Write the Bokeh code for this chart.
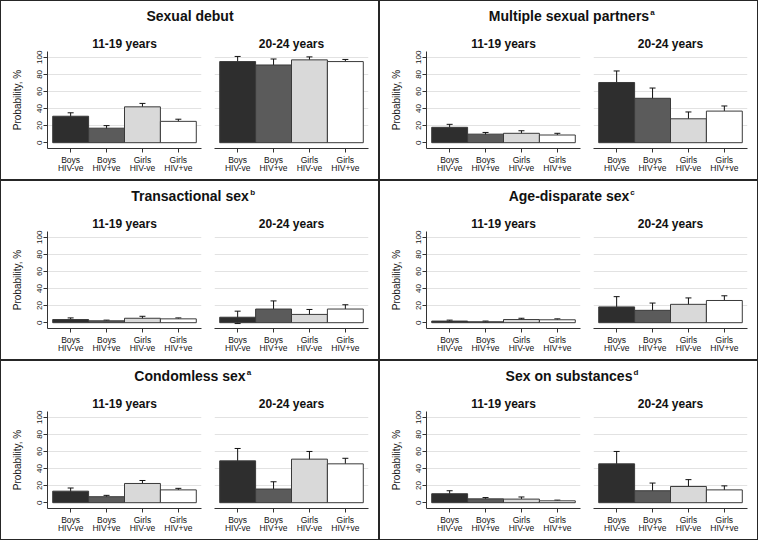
import math
from bokeh.plotting import figure
from bokeh.models import ColumnDataSource, FixedTicker, Whisker, TeeHead, Label, Range1d, LinearAxis
from bokeh.layouts import row, column
from bokeh.embed import file_html
from bokeh.resources import INLINE

# ---------------- data ----------------
groups_sex = ["Boys", "Boys", "Girls", "Girls"]
groups_hiv = ["HIV-ve", "HIV+ve", "HIV-ve", "HIV+ve"]
ages = ["11-19 years", "20-24 years"]
outcomes = ["Sexual debut", "Multiple sexual partners", "Transactional sex",
            "Age-disparate sex", "Condomless sex", "Sex on substances"]
notes = ["", "a", "b", "c", "a", "d"]
y_ticks = [0, 20, 40, 60, 80, 100]
grid_ticks = [20, 40, 60, 80, 100]

debut_1119 = [31, 17, 42, 25]
debut_1119_lo = [27, 15, 38, 22]
debut_1119_hi = [35, 20, 46, 27.5]
debut_2024 = [95, 91, 97, 95]
debut_2024_lo = [89.5, 84, 94, 92]
debut_2024_hi = [101, 98, 100.5, 97.5]

partners_1119 = [18, 10, 11, 9]
partners_1119_lo = [14, 8.5, 8.5, 8]
partners_1119_hi = [21.5, 12, 14, 11]
partners_2024 = [70.5, 52, 28, 37]
partners_2024_lo = [57, 39, 20, 31.5]
partners_2024_hi = [84, 64, 36, 43]

transactional_1119 = [3.7, 2.2, 5.2, 4.5]
transactional_1119_lo = [1.9, 1.1, 3.4, 3.0]
transactional_1119_hi = [5.6, 3.0, 7.5, 5.6]
transactional_2024 = [6.4, 16, 9.7, 16]
transactional_2024_lo = [-1, 7.5, 4, 11.5]
transactional_2024_hi = [13.5, 25.5, 15.5, 21]

agedisp_1119 = [1.9, 1.1, 3.7, 3.4]
agedisp_1119_lo = [0.7, 0.4, 1.9, 2.2]
agedisp_1119_hi = [3.0, 1.9, 5.2, 4.5]
agedisp_2024 = [18.5, 14.5, 21.5, 26]
agedisp_2024_lo = [6.5, 6, 13.5, 20.5]
agedisp_2024_hi = [30.5, 23, 29, 31.5]

condomless_1119 = [13.5, 7, 22.5, 15]
condomless_1119_lo = [9, 5.2, 18.7, 12.7]
condomless_1119_hi = [17.2, 8.6, 26, 16.8]
condomless_2024 = [49, 16, 51, 45.5]
condomless_2024_lo = [34.5, 7, 42, 39]
condomless_2024_hi = [63.5, 24.5, 60, 52]

substances_1119 = [10.5, 4.5, 4.2, 2.2]
substances_1119_lo = [6.3, 3, 1.5, 1.1]
substances_1119_hi = [14, 6, 6.7, 3]
substances_2024 = [45.5, 14, 19, 15]
substances_2024_lo = [31, 5, 11.5, 10.5]
substances_2024_hi = [60, 23, 27, 19.7]

panel_data = [
    [(debut_1119, debut_1119_lo, debut_1119_hi), (debut_2024, debut_2024_lo, debut_2024_hi)],
    [(partners_1119, partners_1119_lo, partners_1119_hi), (partners_2024, partners_2024_lo, partners_2024_hi)],
    [(transactional_1119, transactional_1119_lo, transactional_1119_hi),
     (transactional_2024, transactional_2024_lo, transactional_2024_hi)],
    [(agedisp_1119, agedisp_1119_lo, agedisp_1119_hi), (agedisp_2024, agedisp_2024_lo, agedisp_2024_hi)],
    [(condomless_1119, condomless_1119_lo, condomless_1119_hi),
     (condomless_2024, condomless_2024_lo, condomless_2024_hi)],
    [(substances_1119, substances_1119_lo, substances_1119_hi),
     (substances_2024, substances_2024_lo, substances_2024_hi)],
]

# ---------------- style ----------------
bar_colors = ["#2e2e2e", "#5b5b5b", "#d9d9d9", "#ffffff"]
FONT = "Liberation Sans"
TXT = "#111111"
W, H = 377, 178
TITLE_H = 30
SUB_H = H - TITLE_H
LW = 206
RW = W - LW
XR = (0.355, 4.645)
YR = (-6.8, 106.8)

BOLD_W = {" ": 278, "-": 333, "A": 722, "C": 722, "M": 833, "S": 667, "T": 611,
          "a": 556, "b": 611, "c": 556, "d": 611, "e": 556, "g": 611, "i": 278,
          "l": 278, "m": 889, "n": 611, "o": 611, "p": 611, "r": 389, "s": 556,
          "t": 333, "u": 611, "x": 556}


def bold_width(text, size):
    return sum(BOLD_W.get(ch, 600) for ch in text) * size / 1000.0


def style_xaxis(ax, labels, with_line):
    ax.ticker = FixedTicker(ticks=[1, 2, 3, 4])
    ax.major_label_overrides = {i + 1: g for i, g in enumerate(labels)}
    ax.minor_tick_line_color = None
    ax.major_label_text_font = FONT
    ax.major_label_text_font_size = "8.5px"
    ax.major_label_text_color = TXT
    if with_line:
        ax.major_tick_in = 0
        ax.major_tick_out = 4
        ax.major_label_standoff = 2
        ax.axis_line_color = "#333333"
        ax.major_tick_line_color = "#333333"
    else:
        ax.axis_line_color = None
        ax.major_tick_line_color = None
        ax.major_tick_in = 0
        ax.major_tick_out = 0
        ax.major_label_standoff = -5


def subplot(age_label, est, lo, hi, left):
    p = figure(width=LW if left else RW, height=SUB_H,
               x_range=Range1d(*XR), y_range=Range1d(*YR),
               toolbar_location=None, output_backend="svg",
               y_axis_location="left" if left else None,
               min_border_left=46 if left else 7,
               min_border_right=6 if left else 10,
               min_border_top=20, min_border_bottom=31)
    p.title.text = age_label
    p.title.align = "center"
    p.title.text_font = FONT
    p.title.text_font_size = "12px"
    p.title.text_font_style = "bold"
    p.title.text_color = TXT
    p.title.standoff = 2
    p.outline_line_color = None
    p.background_fill_color = "white"
    p.border_fill_color = "white"
    p.xgrid.visible = False
    p.ygrid.ticker = FixedTicker(ticks=grid_ticks)
    p.ygrid.grid_line_color = "#e2e2e2"
    p.ygrid.grid_line_width = 1

    style_xaxis(p.xaxis[0], groups_sex, True)
    ax2 = LinearAxis()
    style_xaxis(ax2, groups_hiv, False)
    p.add_layout(ax2, "below")

    if left:
        ya = p.yaxis[0]
        ya.ticker = FixedTicker(ticks=y_ticks)
        ya.major_label_orientation = "vertical"
        ya.major_tick_in = 0
        ya.major_tick_out = 4
        ya.minor_tick_line_color = None
        ya.major_label_standoff = 1
        ya.axis_line_color = "#333333"
        ya.major_tick_line_color = "#333333"
        ya.major_label_text_font = FONT
        ya.major_label_text_font_size = "8px"
        ya.major_label_text_color = TXT
        ya.axis_label = "Probability, %"
        ya.axis_label_text_font = FONT
        ya.axis_label_text_font_size = "10px"
        ya.axis_label_text_font_style = "normal"
        ya.axis_label_text_color = TXT
        ya.axis_label_standoff = 12

    src = ColumnDataSource(dict(x=[1, 2, 3, 4], top=est, lo=lo, hi=hi, color=bar_colors))
    p.vbar(x="x", top="top", bottom=0, width=1, fill_color="color",
           line_color="#3a3a3a", line_width=1, source=src)
    w = Whisker(base="x", upper="hi", lower="lo", source=src,
                line_color=TXT, line_width=1,
                upper_head=TeeHead(size=6, line_color=TXT, line_width=1),
                lower_head=TeeHead(size=6, line_color=TXT, line_width=1))
    p.add_layout(w)
    return p


def panel(i):
    t = figure(width=W, height=TITLE_H, x_axis_location=None, y_axis_location=None,
               title_location=None, toolbar_location=None, output_backend="svg",
               min_border=0)
    t.outline_line_color = None
    t.grid.visible = False
    t.background_fill_color = "white"
    t.border_fill_color = "white"
    t.add_layout(Label(x=W / 2, y=15.5, x_units="screen", y_units="screen",
                       text=outcomes[i], text_align="center", text_baseline="alphabetic",
                       text_font=FONT, text_font_size="14px", text_font_style="bold",
                       text_color=TXT))
    if notes[i]:
        t.add_layout(Label(x=W / 2 + bold_width(outcomes[i], 14) / 2 + 1, y=19,
                           x_units="screen", y_units="screen", text=notes[i],
                           text_align="left", text_baseline="alphabetic",
                           text_font=FONT, text_font_size="8px", text_font_style="bold",
                           text_color=TXT))
    (e1, l1, h1), (e2, l2, h2) = panel_data[i]
    pl = subplot(ages[0], e1, l1, h1, True)
    pr = subplot(ages[1], e2, l2, h2, False)
    return column(t, row(pl, pr), styles={"border": "1px solid #262626",
                                          "background-color": "white"})


rows = [row(panel(2 * r), panel(2 * r + 1)) for r in range(3)]
root = column(*rows, styles={"background-color": "white"})

open("out.html", "w").write(file_html(root, INLINE))
